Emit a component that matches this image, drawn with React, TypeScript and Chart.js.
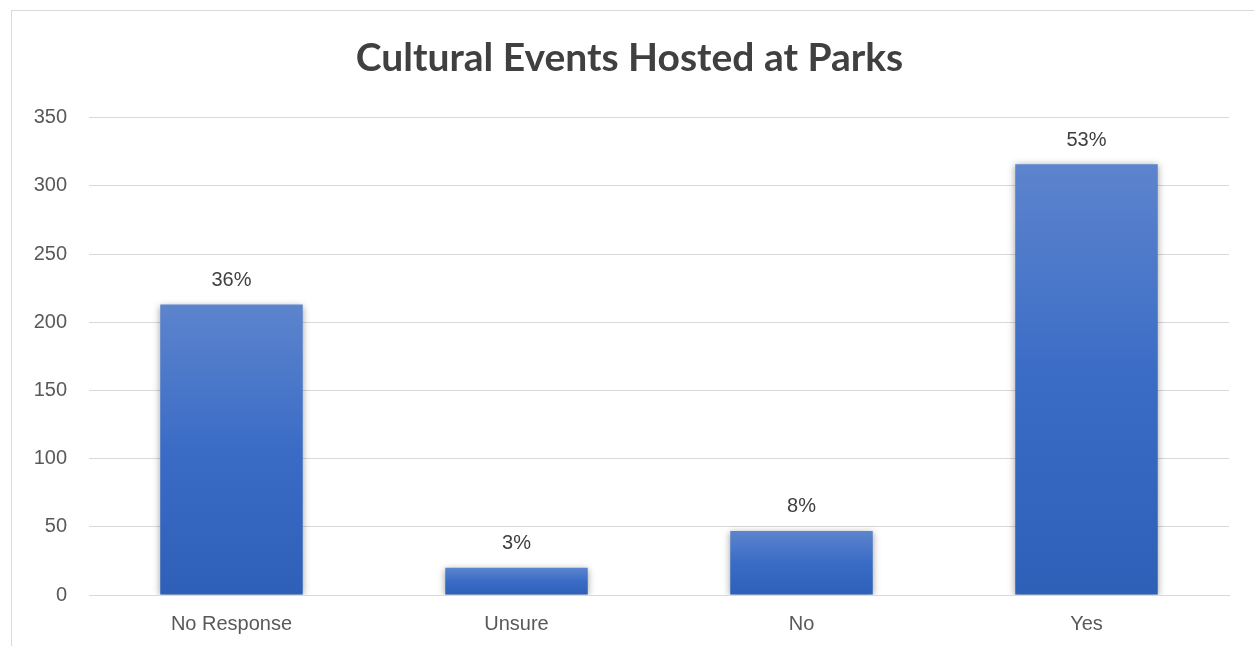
import React, { useEffect, useRef } from "react";
import { Chart, registerables } from "chart.js";

Chart.register(...registerables);

const categories = ["No Response", "Unsure", "No", "Yes"];
const counts = [213, 20, 47, 316];
const percentLabels = ["36%", "3%", "8%", "53%"];
const yTicksMax = 350;
const yTickStep = 50;
const chartTitle = "Cultural Events Hosted at Parks";

const shadowPlugin = {
  id: "barShadow",
  beforeDatasetsDraw(chart: any) {
    const ctx = chart.ctx;
    ctx.save();
    ctx.shadowColor = "rgba(0,0,0,0.38)";
    ctx.shadowBlur = 7;
    ctx.shadowOffsetX = 0;
    ctx.shadowOffsetY = 1;
  },
  afterDatasetsDraw(chart: any) {
    chart.ctx.restore();
  },
};

const labelPlugin = {
  id: "pctLabels",
  afterDraw(chart: any) {
    const ctx = chart.ctx;
    const meta = chart.getDatasetMeta(0);
    ctx.save();
    ctx.font = '20px "Liberation Sans", Arial, sans-serif';
    ctx.fillStyle = "#404040";
    ctx.textAlign = "center";
    ctx.textBaseline = "middle";
    meta.data.forEach((bar: any, i: number) => {
      ctx.fillText(percentLabels[i], bar.x, bar.y - 24);
    });
    ctx.restore();
  },
};

export default function App() {
  const ref = useRef<HTMLCanvasElement>(null);
  useEffect(() => {
    if (!ref.current) return;
    const chart = new Chart(ref.current, {
      type: "bar",
      data: {
        labels: categories,
        datasets: [
          {
            data: counts,
            categoryPercentage: 1,
            barPercentage: 0.5,
            backgroundColor: (c: any) => {
              const ch = c.chart;
              const ys = ch.scales && ch.scales.y;
              if (!ch.chartArea || !ys || c.dataIndex === undefined) return "#3a6cc4";
              const v = counts[c.dataIndex];
              const top = ys.getPixelForValue(v);
              const bot = ys.getPixelForValue(0);
              if (!isFinite(top) || !isFinite(bot) || top === bot) return "#3a6cc4";
              const g = ch.ctx.createLinearGradient(0, top, 0, bot);
              g.addColorStop(0, "#5d84cd");
              g.addColorStop(0.5, "#3a6cc6");
              g.addColorStop(1, "#2e60b8");
              return g;
            },
            borderWidth: 0,
          },
        ],
      },
      options: {
        responsive: true,
        maintainAspectRatio: false,
        animation: false,
        layout: { padding: { left: 30, right: 25, top: 0, bottom: 10 } },
        plugins: {
          legend: { display: false },
          tooltip: { enabled: false },
          title: {
            display: true,
            text: chartTitle,
            color: "#404040",
            font: { family: "Lato, 'Open Sans', sans-serif", size: 39, weight: "bold" },
            padding: { top: 35, bottom: 36 },
          },
        },
        scales: {
          x: {
            grid: { display: false, drawTicks: false },
            border: { display: true, color: "#d9d9d9", width: 1 },
            ticks: {
              color: "#595959",
              font: { family: "'Liberation Sans', Arial, sans-serif", size: 20 },
              padding: 17,
            },
          },
          y: {
            min: 0,
            max: yTicksMax,
            afterFit: (s: any) => {
              s.width = 59;
            },
            grid: { color: "#d9d9d9", lineWidth: 1, drawTicks: false },
            border: { display: false },
            ticks: {
              stepSize: yTickStep,
              color: "#595959",
              font: { family: "'Liberation Sans', Arial, sans-serif", size: 20 },
              padding: 22,
            },
          },
        },
      } as any,
      plugins: [shadowPlugin, labelPlugin],
    });
    return () => chart.destroy();
  }, []);

  return (
    <div style={{ position: "fixed", left: 0, top: 0, width: 1254, height: 646, overflow: "hidden", background: "#fff" }}>
      <div
        style={{
          position: "absolute",
          left: 11,
          top: 10,
          width: 1270,
          height: 660,
          border: "1px solid #d9d9d9",
          boxSizing: "border-box",
        }}
      />
      <div style={{ position: "absolute", left: 0, top: 0, width: 1254, height: 663 }}>
        <canvas ref={ref} />
      </div>
    </div>
  );
}
